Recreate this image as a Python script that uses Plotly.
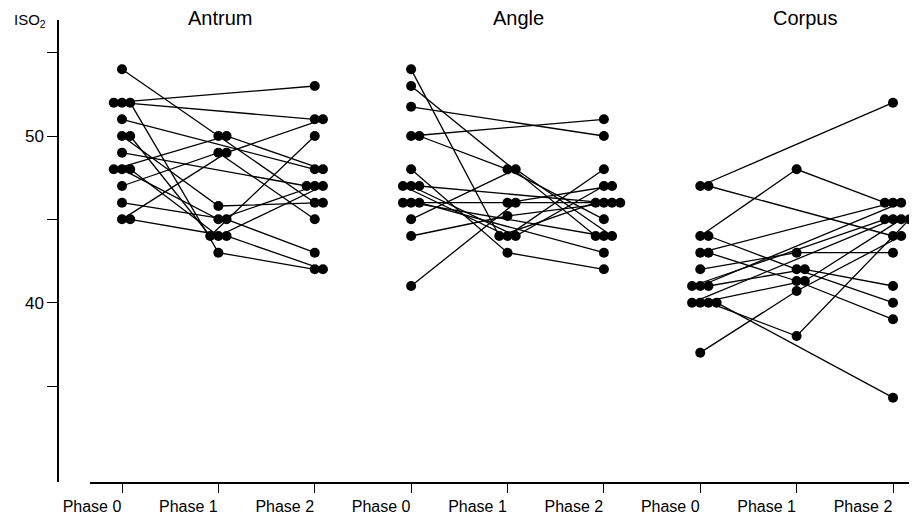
import plotly.graph_objects as go

# ---------------- data ----------------
regions = ["Antrum", "Angle", "Corpus"]
phase_labels = ["Phase 0", "Phase 1", "Phase 2"]

antrum_p0 = [54, 52, 52, 52, 51, 50, 50, 49, 48, 48, 48, 47, 46, 45, 45]
antrum_p1 = [50, None, None, 43, None, 45.8, 44, None, 50, 45, 44, 49, 45, 49, 44]
antrum_p2 = [46, 53, 51, 42, 48, 46, 50, 47, 48, 47, 47, 45, 43, 51, 42]

angle_p0 = [54, 53, 51.75, 50, 50, 48, 47, 47, 47, 46, 46, 46, 45, 44, 41]
angle_p1 = [44, None, None, None, 48, 43, 44, 44, None, 46, None, None, 48, 45.2, 46]
angle_p2 = [46, 44, 50, 51, 45, 42, 48, 47, 46, 47, 44, 43, 44, 46, 46]

corpus_p0 = [47, 47, 44, 44, 43, 43, 42, 41, 41, 41, 40, 40, 40, 40, 37]
corpus_p1 = [None, None, 48, 42, None, 41.3, 43, None, None, 42, None, 41.3, 38, None, 40.7]
corpus_p2 = [52, 44, 46, 40, 46, 39, 43, 45, 46, 41, 45, 45, 45, 34.3, 44]

y_label_vals = [40, 50]
y_minor_vals = [35, 45, 55]

panels = [
    (antrum_p0, antrum_p1, antrum_p2),
    (angle_p0, angle_p1, angle_p2),
    (corpus_p0, corpus_p1, corpus_p2),
]

# ---------------- figure ----------------
# page body has an 8px margin, so the figure is sized to the visible area
W, H = 909, 514
TOP, BOT = 12, 474           # plot area (figure pixels)
JIT = 0.085                  # horizontal spread of coincident dots (x units)

fig = go.Figure()

for pi, series in enumerate(panels):
    n = len(series[0])
    offsets = []
    for ph in range(3):
        vals = series[ph]
        groups = {}
        for i, v in enumerate(vals):
            if v is None:
                continue
            groups.setdefault(v, []).append(i)
        off = [0.0] * n
        for v, idxs in groups.items():
            m = len(idxs)
            start = -((m - 1) // 2)
            for k, i in enumerate(idxs):
                off[i] = (start + k) * JIT
        offsets.append(off)
    for i in range(n):
        xs = [pi * 3 + ph + offsets[ph][i] for ph in range(3)]
        ys = [series[ph][i] for ph in range(3)]
        fig.add_trace(go.Scatter(
            x=xs, y=ys, mode="lines+markers", connectgaps=True,
            line=dict(color="black", width=1.3),
            marker=dict(color="black", size=10),
            hoverinfo="skip", showlegend=False, cliponaxis=False,
        ))

font = "Liberation Sans, Arial, Helvetica, sans-serif"

fig.update_layout(
    width=W, height=H,
    margin=dict(l=0, r=0, t=TOP, b=H - BOT, autoexpand=False),
    plot_bgcolor="white", paper_bgcolor="white",
    showlegend=False,
    font=dict(family=font, color="black"),
)

fig.update_xaxes(
    domain=[82 / W, 1], range=[-0.332, 8.249],
    tickvals=list(range(9)), ticktext=phase_labels * 3,
    ticks="outside", ticklen=9, tickcolor="black", tickwidth=1.2,
    showline=True, linecolor="black", linewidth=2,
    showgrid=False, zeroline=False, automargin=False,
    ticklabelshift=-30,
    tickfont=dict(family=font, size=16, color="black"),
)
fig.update_yaxes(
    anchor="free", position=50 / W, range=[29.24, 56.96],
    tickmode="array", tickvals=y_label_vals,
    ticks="outside", ticklen=10, tickcolor="black", tickwidth=1.2,
    minor=dict(tickmode="array", tickvals=y_minor_vals, ticks="outside",
               ticklen=10, tickcolor="black", tickwidth=1.2, showgrid=False),
    showline=True, linecolor="black", linewidth=1.5,
    showgrid=False, zeroline=False, automargin=False,
    tickfont=dict(family=font, size=17, color="black"),
)

PH = BOT - TOP
title_px = [212, 510, 797]
for name, px in zip(regions, title_px):
    fig.add_annotation(
        x=px / W, y=(BOT - 10) / PH, xref="paper", yref="paper",
        text=name, showarrow=False, xanchor="center", yanchor="middle",
        font=dict(family=font, size=20, color="black"),
    )

fig.add_annotation(
    x=4 / W, y=(BOT - 12) / PH, xref="paper", yref="paper",
    text="ISO<sub>2</sub>", showarrow=False, xanchor="left", yanchor="middle",
    font=dict(family=font, size=15, color="black"),
)

fig.write_html("out.html")
